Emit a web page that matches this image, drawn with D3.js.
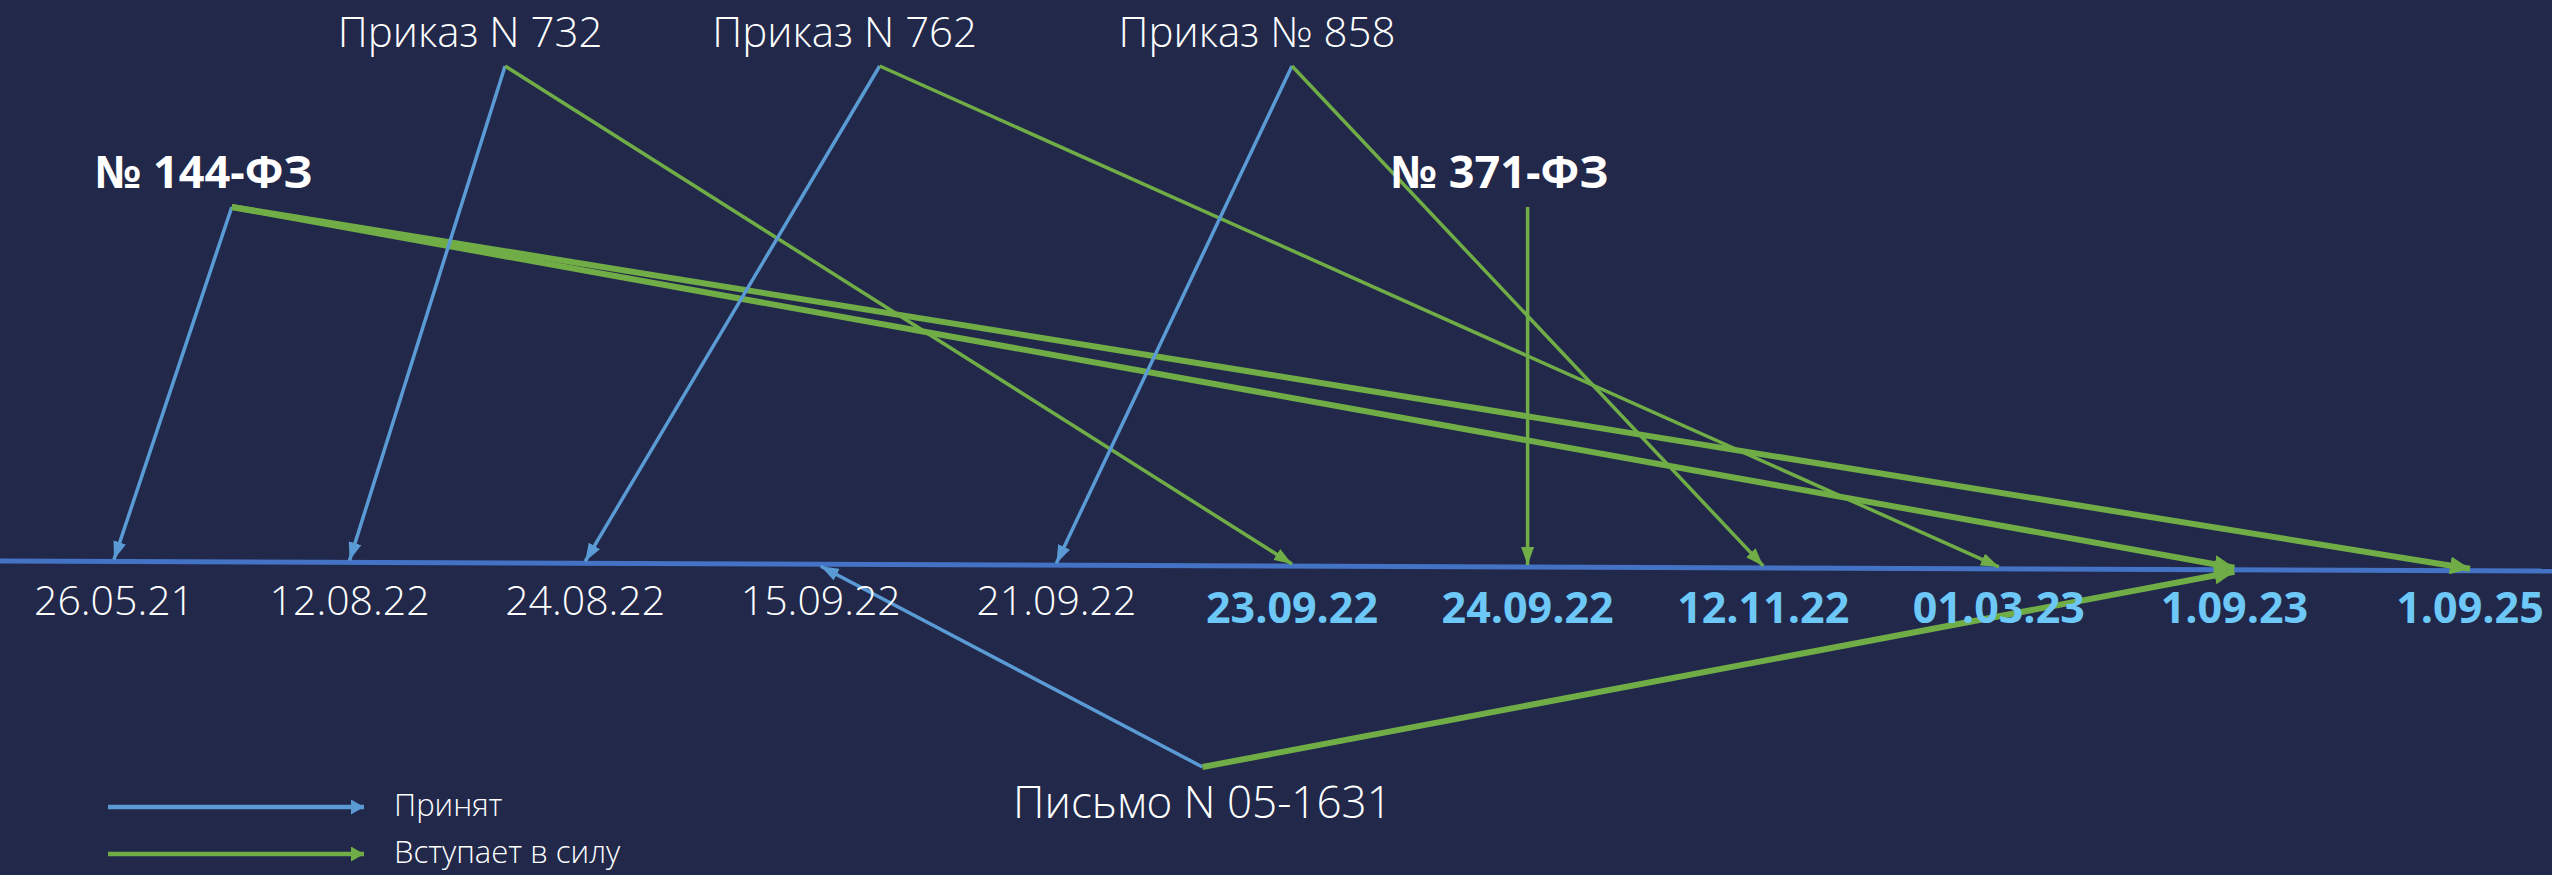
<!DOCTYPE html>
<html lang="ru">
<head>
<meta charset="utf-8">
<script src="https://cdn.jsdelivr.net/npm/d3@7/dist/d3.min.js"></script>
<style>
  html, body { margin: 0; padding: 0; background: #21284A; overflow: hidden; }
  svg { display: block; }
  text { font-family: "Open Sans", "Noto Sans", sans-serif; }
</style>
</head>
<body>
<svg id="chart"></svg>
<script>
// ---------------- DATA ----------------
const dates = ["26.05.21", "12.08.22", "24.08.22", "15.09.22", "21.09.22",
               "23.09.22", "24.09.22", "12.11.22", "01.03.23", "1.09.23", "1.09.25"];
const dateKind = ["adopted", "adopted", "adopted", "adopted", "adopted",
                  "effective", "effective", "effective", "effective", "effective", "effective"];

const docs = ["№ 144-ФЗ", "Приказ N 732", "Приказ N 762", "Приказ № 858", "№ 371-ФЗ", "Письмо N 05-1631"];
const docAdopted = ["26.05.21", "12.08.22", "24.08.22", "21.09.22", null, "15.09.22"];
const docEffective = [["1.09.23", "1.09.25"], ["23.09.22"], ["01.03.23"], ["12.11.22"], ["24.09.22"], ["1.09.23"]];

const legendLabels = ["Принят", "Вступает в силу"];

// ---------------- LAYOUT (not data) ----------------
const W = 2552, H = 875;
const docRow = ["mid", "top", "top", "top", "mid", "bottom"];
const docCol = [0.5, 1.66, 3.25, 5.0, 6.0, 4.62];     // column in axis-slot units
const docHeavy = [true, false, false, false, false, true];
const rowLabel = { top: { dx: -35, dy: -19 }, mid: { dx: -28, dy: -19 }, bottom: { dx: 0, dy: 51 } };
const rowFont = { top: 42, mid: 45, bottom: 44 };

const C = {
  bg: "#21284A", axis: "#4472C4", blue: "#5B9BD5", green: "#70AD47",
  white: "#FFFFFF", lightBlue: "#6DC8F8"
};

// ---------------- SCALES ----------------
const x = d3.scalePoint().domain(dates).range([114, 2470]);
const xCol = d3.scaleLinear().domain([0, dates.length - 1]).range(x.range());
const rowY = d3.scaleOrdinal().domain(["top", "mid", "bottom"]).range([66, 207, 767]);
const axisY = d3.scaleLinear().domain([0, W]).range([561, 571]);

const svg = d3.select("#chart").attr("width", W).attr("height", H);
svg.append("rect").attr("width", W).attr("height", H).attr("fill", C.bg);

// markers
const defs = svg.append("defs");
function marker(id, color, len, wid) {
  defs.append("marker")
    .attr("id", id).attr("viewBox", `0 0 ${len} ${wid}`)
    .attr("refX", len).attr("refY", wid / 2)
    .attr("markerWidth", len).attr("markerHeight", wid)
    .attr("markerUnits", "userSpaceOnUse").attr("orient", "auto")
    .append("path").attr("d", `M0,0L${len},${wid / 2}L0,${wid}Z`).attr("fill", color);
}
marker("mBlue", C.blue, 18, 13);
marker("mGreen", C.green, 18, 13);
marker("mGreenH", C.green, 20, 18);
marker("mLegBlue", C.blue, 13, 15);
marker("mLegGreen", C.green, 13, 15);

// axis line
svg.append("line")
  .attr("x1", 0).attr("y1", axisY(0))
  .attr("x2", W).attr("y2", axisY(W))
  .attr("stroke", C.axis).attr("stroke-width", 5);

// links
const links = [];
docs.forEach((d, i) => {
  if (docAdopted[i]) links.push({ doc: i, date: docAdopted[i], type: "adopted" });
  docEffective[i].forEach(e => links.push({ doc: i, date: e, type: "effective" }));
});

svg.append("g").selectAll("line").data(links).join("line")
  .attr("x1", d => xCol(docCol[d.doc]))
  .attr("y1", d => rowY(docRow[d.doc]))
  .attr("x2", d => x(d.date))
  .attr("y2", d => axisY(x(d.date)) - (docRow[d.doc] === "bottom" ? -2 : 2))
  .attr("stroke", d => d.type === "adopted" ? C.blue : C.green)
  .attr("stroke-width", d => d.type === "effective" && docHeavy[d.doc] ? 6 : 3.5)
  .attr("marker-end", d => d.type === "adopted" ? "url(#mBlue)"
        : (docHeavy[d.doc] ? "url(#mGreenH)" : "url(#mGreen)"));

// date labels
svg.append("g").selectAll("text").data(dates).join("text")
  .attr("x", d => x(d))
  .attr("y", (d, i) => dateKind[i] === "adopted" ? 615 : 623)
  .attr("text-anchor", "middle")
  .attr("font-size", (d, i) => dateKind[i] === "adopted" ? 41 : 43)
  .attr("font-weight", (d, i) => dateKind[i] === "adopted" ? 300 : 700)
  .attr("fill", (d, i) => dateKind[i] === "adopted" ? C.white : C.lightBlue)
  .text(d => d);

// document labels
svg.append("g").selectAll("text").data(docs).join("text")
  .attr("x", (d, i) => xCol(docCol[i]) + rowLabel[docRow[i]].dx)
  .attr("y", (d, i) => rowY(docRow[i]) + rowLabel[docRow[i]].dy)
  .attr("text-anchor", "middle")
  .attr("font-size", (d, i) => rowFont[docRow[i]])
  .attr("font-weight", (d, i) => docRow[i] === "mid" ? 700 : 300)
  .attr("fill", C.white)
  .text(d => d);

// legend
const leg = svg.append("g");
legendLabels.forEach((lab, i) => {
  const y = 807 + i * 47;
  leg.append("line")
    .attr("x1", 108).attr("y1", y).attr("x2", 364).attr("y2", y)
    .attr("stroke", i === 0 ? C.blue : C.green).attr("stroke-width", 4.5)
    .attr("marker-end", i === 0 ? "url(#mLegBlue)" : "url(#mLegGreen)");
  leg.append("text")
    .attr("x", 394).attr("y", y + 9)
    .attr("font-size", 31).attr("font-weight", 300)
    .attr("fill", C.white).text(lab);
});
</script>
</body>
</html>
